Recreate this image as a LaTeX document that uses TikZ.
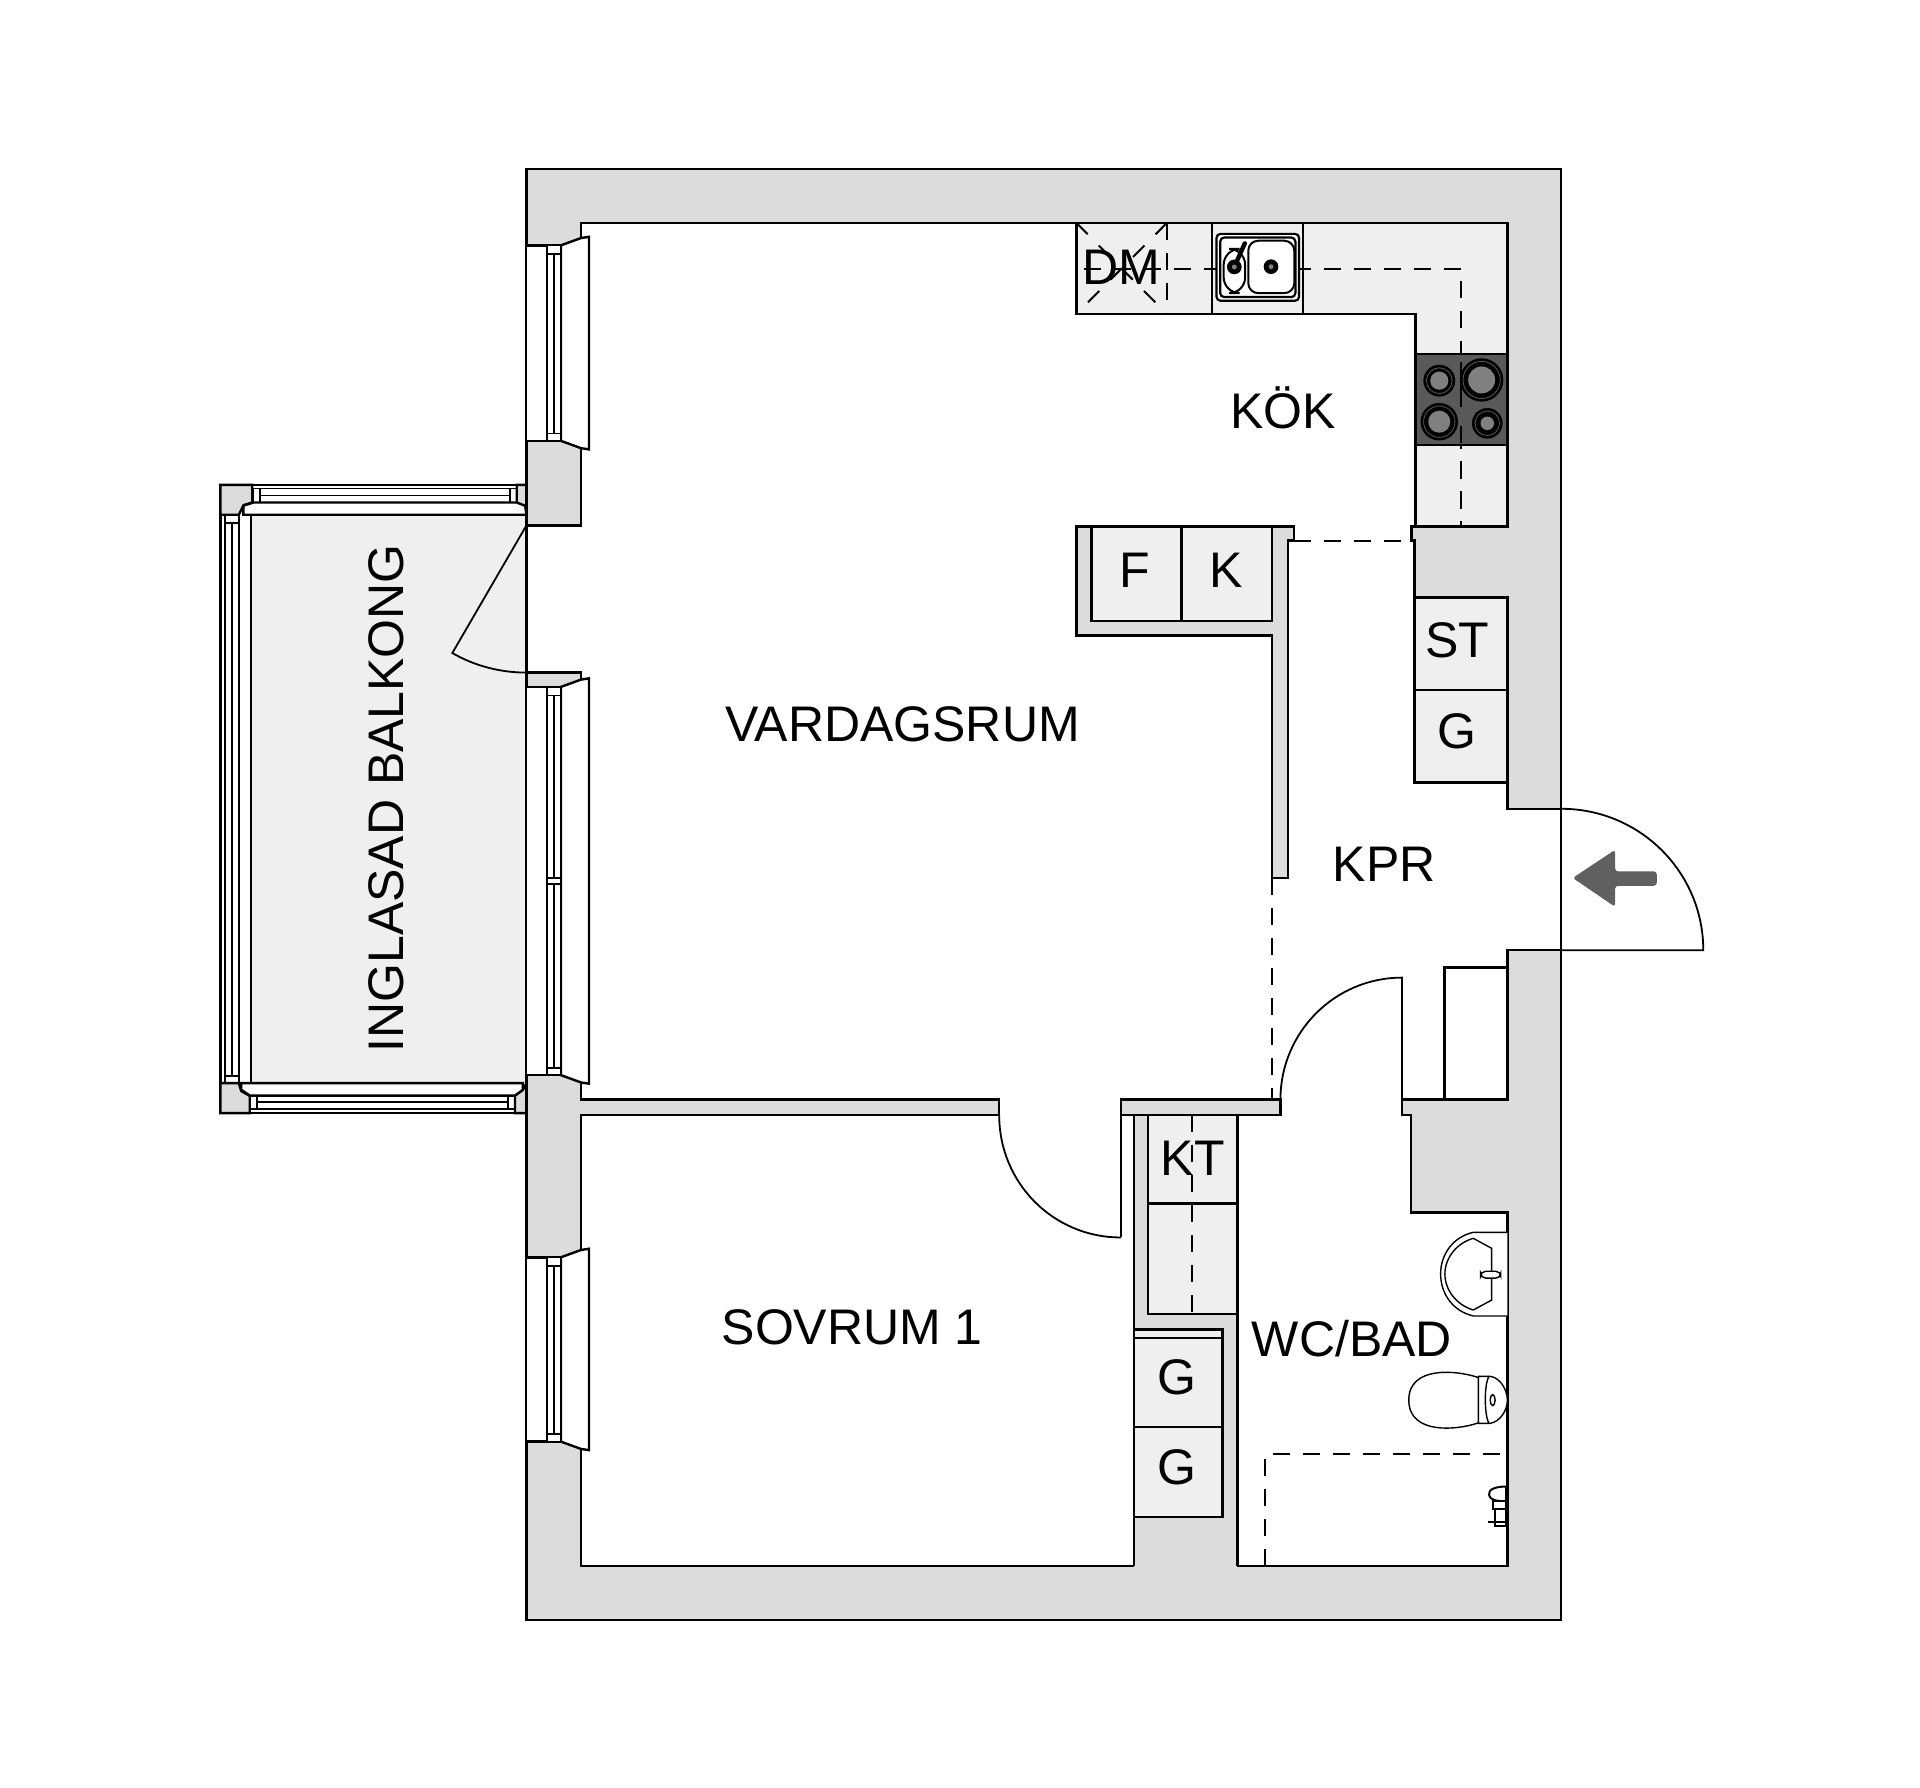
\documentclass[tikz,border=0pt]{standalone}
\usepackage{fontspec}
\setmainfont{Liberation Sans}
\usepackage{xcolor}
\definecolor{mywall}{HTML}{DCDCDC}
\definecolor{myfloor}{HTML}{EFEFEF}
\definecolor{myhob}{HTML}{595959}
\definecolor{myplate}{HTML}{808080}
\definecolor{myarrow}{HTML}{606060}

\begin{document}
\begin{tikzpicture}[x=0.6122pt, y=-0.6122pt,
                    line cap=butt, line join=miter,
                    outline/.style={black, line width=1.2pt},
                    wall/.style={outline, fill=mywall},
                    room/.style={outline, fill=white},
                    unitbox/.style={outline, fill=myfloor},
                    thin line/.style={black, line width=0.9pt},
                    fixture/.style={black, line width=0.7pt, fill=white},
                    hidden line/.style={black, line width=1pt, dash pattern=on 8.6pt off 6.4pt},
                    roomname/.style={inner sep=0pt, font=\fontsize{25}{25}\selectfont,
                                     text height=17.9pt, text depth=0pt}]
  \useasboundingbox (0,0) rectangle (1568,1459.4);

  \def\drawWindow#1#2{ % window in the west wall, #1 top and #2 bottom of the opening
    \fill[white] (430,#1) rectangle (458,#2);
    \draw[outline] (430,#1) -- (458,#1) (430,#2) -- (458,#2);
    \draw[room] (458,#1) -- (474.5,#1-6) -- (481,#1-7) -- (481,#2+7) -- (474.5,#2+6) -- (458,#2) -- cycle;
    \draw[thin line, fill=white] (446.5,#1) rectangle (458,#2);
    \draw[thin line] (446.5,#1+7) -- (458,#1+7) (446.5,#2-6) -- (458,#2-6);
    \draw[thin line] (452.5,#1+7) -- (452.5,#2-6);
  }

  % balcony
  \fill[myfloor] (205,420) rectangle (430,884.5);
  \draw[outline] (180,420) -- (180,885) (205,420) -- (205,885);
  \draw[thin line] (184,420.4) rectangle (195,884.5);
  \draw[thin line] (184,427) -- (195,427) (184,879) -- (195,879) (189.7,427) -- (189.7,879);
  \draw[wall] (180,396) -- (206,396) -- (206,410.4) -- (199,412.5) -- (195,420.4) -- (180,420.4) -- cycle;
  \draw[wall] (180,884.5) -- (195,884.5) -- (197,891) -- (204,895) -- (204,909) -- (180,909) -- cycle;
  \draw[wall] (422,396) -- (430,396) -- (430,416) -- (422,410.4) -- cycle;
  \draw[wall] (427,890) -- (420.6,894.7) -- (420.6,909) -- (430,909) -- (430,884.5) -- cycle;
  \draw[outline] (206,396) -- (422,396) (204,909) -- (420.6,909);
  \draw[thin line] (207,399) rectangle (422,410.4) (204,894.7) rectangle (420.6,906);
  \draw[thin line] (212.3,399) -- (212.3,410.4) (416.5,399) -- (416.5,410.4) (212.3,404.6) -- (416.5,404.6);
  \draw[thin line] (209.6,894.7) -- (209.6,906) (415,894.7) -- (415,906) (209.6,900) -- (415,900);
  \draw[room] (198.7,420.4) -- (198.7,413) -- (207,410.4) -- (422,410.4) -- (428.8,413) -- (430,420.4) -- cycle;
  \draw[room] (197,884.5) -- (197,890) -- (204,894.7) -- (420.6,894.7) -- (427,890) -- (427,884.5) -- cycle;

  % walls and rooms
  \draw[wall] (430,138) rectangle (1275,1323);
  \draw[room] (474.5,182) -- (1231,182) -- (1231,430) -- (1152.6,430) -- (1152.6,441.5) -- (1155,441.5)
    -- (1155,639) -- (1231,639) -- (1231,660.5) -- (1275,660.5) -- (1275,776) -- (1231,776) -- (1231,898)
    -- (1145,898) -- (1145,910.6) -- (1152.4,910.6) -- (1152.4,990.3) -- (1231,990.3) -- (1231,1279)
    -- (1010.5,1279) -- (1010.5,910.6) -- (1045.7,910.6) -- (1045.7,898) -- (915.5,898) -- (915.5,910.6)
    -- (926,910.6) -- (926,1279) -- (474.5,1279) -- (474.5,910.6) -- (816,910.6) -- (816,898) -- (474.5,898)
    -- (474.5,549.3) -- (430,549.3) -- (430,429) -- (474.5,429) -- cycle;

  % windows
  \drawWindow{200.4}{360}
  \drawWindow{561}{878}
  \drawWindow{1026.8}{1177.3}
  \draw[thin line, fill=white] (446.5,717) rectangle (458,722);

  % kitchen
  \draw[unitbox] (879,182) -- (1231,182) -- (1231,430) -- (1156,430) -- (1156,256.5) -- (879,256.5) -- cycle;
  \draw[outline] (990,182) -- (990,256.5) (1064,182) -- (1064,256.5);
  \draw[hidden line] (885,219.7) -- (1193.5,219.7) -- (1193.5,430);
  \draw[hidden line] (953,182) -- (953,256.5);
  \draw[hidden line, dash pattern=on 8pt off 8pt] (879,182) -- (953,256.5) (953,182) -- (879,256.5);
  \draw[fixture, line width=1.1pt, rounded corners=2pt] (993.5,191) rectangle (1060.9,245.6);
  \draw[fixture, line width=1.1pt, rounded corners=2pt] (996.5,194) rectangle (1057.9,242.6);
  \draw[fixture, line width=1pt, rounded corners=8pt] (999.3,203.3) rectangle (1016.9,239.4);
  \draw[fixture, line width=1pt, rounded corners=5pt] (1019.4,196.6) rectangle (1057,239.4);
  \draw[black, line width=2.2pt, line cap=round] (1008,218) -- (1016.6,198.7);
  \fill[black] (1008,218) circle[radius=6] (1038,217.8) circle[radius=6];
  \fill[myplate] (1008,218) circle[radius=2] (1038,217.8) circle[radius=2];

  % hob
  \fill[myhob] (1156.4,289) rectangle (1230.5,363.4);
  \draw[outline] (1156.4,289) rectangle (1230.5,363.4);
  \draw[black, line width=1pt] (1193.3,296) -- (1193.3,332) (1193.3,348) -- (1193.3,362);
  \foreach \px/\py/\router/\rinner in {1175.4/310.9/13/7.4, 1210/310.3/17.7/11, 1175.4/344.4/15.3/9, 1214.6/345.7/12.5/5.5}{
    \fill[black] (\px,\py) circle[radius=\router];
    \draw[myhob, line width=0.4pt] (\px,\py) circle[radius=\router-2.5];
    \fill[myplate] (\px,\py) circle[radius=\rinner];
  }

  % fridge and freezer
  \draw[wall] (879,430) -- (1056.6,430) -- (1056.6,441.5) -- (1052,441.5) -- (1052,717) -- (1039,717)
    -- (1039,519) -- (879,519) -- cycle;
  \draw[unitbox] (891.3,430) rectangle (965,507);
  \draw[unitbox] (965,430) rectangle (1039,507);
  \draw[hidden line] (1056.6,441.5) -- (1152.6,441.5);

  % closets
  \draw[unitbox] (1155,488) rectangle (1231,563.4);
  \draw[unitbox] (1155,563.4) rectangle (1231,639);
  \draw[outline] (1179.5,898) -- (1179.5,790) -- (1231,790);

  % entrance door
  \draw[thin line] (1275,776) -- (1391,776) .. controls (1391,712) and (1339,660.5) .. (1275,660.5);
  \fill[myarrow, rounded corners=1.5pt] (1284.4,717) -- (1319,694) -- (1319,711.6) -- (1353,711.6)
    -- (1353,723.4) -- (1319,723.4) -- (1319,740.6) -- cycle;

  % inner doors and passages
  \draw[thin line] (1145,898) -- (1145,798.4) .. controls (1090,798.4) and (1045.7,843) .. (1045.7,898);
  \draw[thin line] (816,910.6) .. controls (816,966) and (860,1010.6) .. (915.5,1010.6);
  \draw[outline] (915.5,910.6) -- (915.5,1010.6);
  \draw[thin line] (430,429) -- (369.4,533.3) .. controls (387.6,543.9) and (409,549.3) .. (430,549.3);
  \draw[hidden line] (1039,717) -- (1039,898);

  % bathroom wall and closets
  \fill[mywall] (926,910.6) rectangle (1010.5,1300);
  \draw[outline] (926,910.6) -- (926,1279) (1010.5,910.6) -- (1010.5,1279);
  \draw[outline, fill=mywall] (915.5,898) rectangle (1045.7,910.6);
  \draw[unitbox] (937.5,910.6) rectangle (1010.5,983);
  \draw[unitbox] (937.5,983) rectangle (1010.5,1073);
  \draw[hidden line] (973.7,910.6) -- (973.7,1073);
  \draw[unitbox] (926,1085.7) rectangle (998.4,1092.5);
  \draw[unitbox] (926,1092.5) rectangle (998.4,1165.4);
  \draw[unitbox] (926,1165.4) rectangle (998.4,1238.8);

  % bathroom fittings
  \draw[fixture] (1231,1006.4) -- (1203.2,1006.4) .. controls (1187,1010) and (1176.5,1024) .. (1176.5,1040.4)
    .. controls (1176.5,1057) and (1187,1071) .. (1203.2,1074.7) -- (1231,1074.7);
  \draw[fixture] (1203.2,1011.3) -- (1218.2,1019.5) -- (1218.2,1061.7) -- (1203.2,1069.8)
    .. controls (1190,1066) and (1180,1054) .. (1180,1040.4) .. controls (1180,1027) and (1190,1015) .. (1203.2,1011.3);
  \draw[fixture, rounded corners=2.5pt] (1209.2,1038.2) rectangle (1225.6,1043.8);
  \draw[fixture] (1207.3,1125) .. controls (1190,1119) and (1150.5,1115) .. (1150.5,1143.4)
    .. controls (1150.5,1172) and (1190,1168) .. (1207.3,1162);
  \draw[fixture] (1207.3,1124) -- (1217,1124) .. controls (1225,1125) and (1231,1135) .. (1231,1143.4)
    .. controls (1231,1152) and (1225,1161) .. (1217,1162.4) -- (1207.3,1162.4) -- cycle;
  \draw[fixture] (1216,1124) .. controls (1212,1130) and (1212,1156) .. (1216,1162.4);
  \draw[fixture] (1219,1143.4) ellipse[x radius=2, y radius=4.5];
  \draw[hidden line] (1225,1187.8) -- (1032.8,1187.8) -- (1032.8,1279);
  \draw[fixture, line width=1pt] (1216,1221) .. controls (1215,1216) and (1222,1214) .. (1230,1214) -- (1230,1226)
    .. controls (1222,1226) and (1217,1225) .. (1216,1221);
  \draw[fixture, line width=1pt] (1219,1226) rectangle (1230,1232);
  \draw[fixture, line width=1pt] (1221,1232) rectangle (1230,1246);
  \draw[thin line] (1215,1243) -- (1230,1243);

  % room and unit names
  \node[roomname] (vardagsrum) at (737,591) {VARDAGSRUM};
  \node[roomname] (kok) at (1048,335.5) {KÖK};
  \node[roomname] (sovrum) at (696,1083) {SOVRUM 1};
  \node[roomname] (kpr) at (1130.5,705.5) {KPR};
  \node[roomname] (wcbad) at (1104,1093.5) {WC/BAD};
  \node[roomname, rotate=90] (balkong) at (315,652) {INGLASAD BALKONG};
  \node[roomname] (dm) at (916,218) {DM};
  \node[roomname] (frys) at (927,465) {F};
  \node[roomname] (kyl) at (1001,465) {K};
  \node[roomname] (st) at (1190,522) {ST};
  \node[roomname] (hallg) at (1190,597) {G};
  \node[roomname] (kt) at (974,945) {KT};
  \node[roomname] (sovg) at (961,1124) {G};
  \node[roomname] (sovgg) at (961,1198) {G};

\end{tikzpicture}
\end{document}
